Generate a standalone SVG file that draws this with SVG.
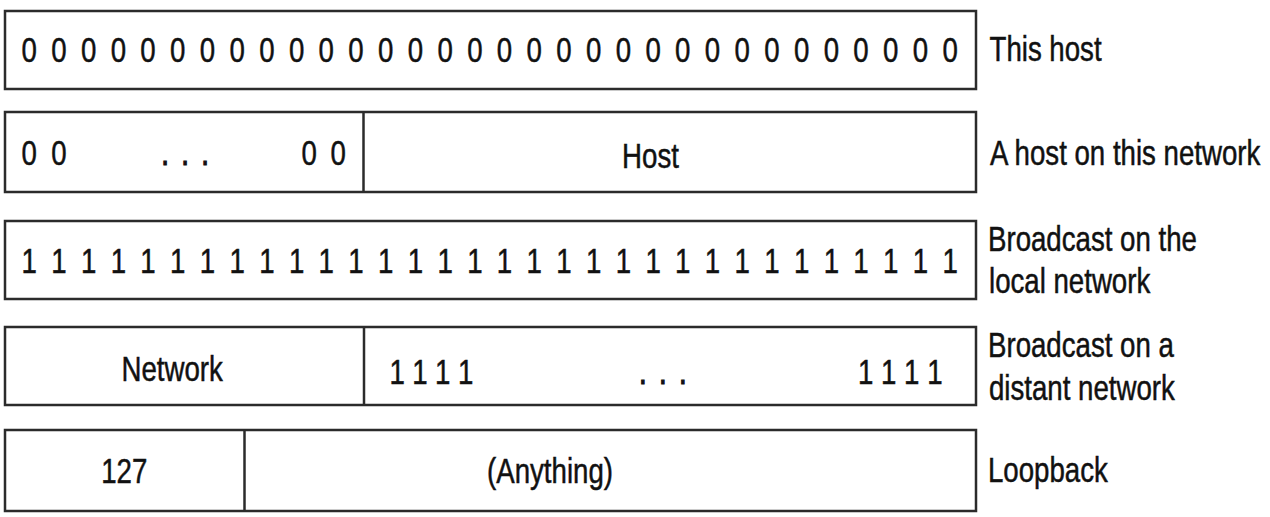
<svg xmlns="http://www.w3.org/2000/svg" width="1270" height="517" viewBox="0 0 1270 517">
<style>
.box{fill:#fff;stroke:#2b2b2b;stroke-width:2.5}
.div{stroke:#2b2b2b;stroke-width:2.5}
.t{font-family:"Liberation Sans",Arial,Helvetica,sans-serif;font-size:35px;fill:#111;stroke:#111;stroke-width:0.5px}
.m{text-anchor:middle}
</style>
<rect width="1270" height="517" fill="#fff"/>
<g id="row-this-host">
<rect class="box" x="5" y="11" width="971" height="78"/>
<text class="t" transform="translate(21.5,62) scale(0.79,1)" style="letter-spacing:4.22px">0 0 0 0 0 0 0 0 0 0 0 0 0 0 0 0 0 0 0 0 0 0 0 0 0 0 0 0 0 0 0 0</text>
<text class="t" transform="translate(989.5,61) scale(0.79,1)">This host</text>
</g>
<g id="row-host-on-network">
<rect class="box" x="5" y="112" width="971" height="80"/>
<line class="div" x1="363.5" y1="112" x2="363.5" y2="192"/>
<text class="t" transform="translate(21.5,165) scale(0.79,1)" style="letter-spacing:4.2px">0 0</text>
<text class="t" transform="translate(161.2,165) scale(0.79,1)" style="letter-spacing:2.93px;stroke-width:1.2px">. . .</text>
<text class="t" transform="translate(301.6,165) scale(0.79,1)" style="letter-spacing:3.75px">0 0</text>
<text class="t m" transform="translate(650.5,168) scale(0.79,1)">Host</text>
<text class="t" transform="translate(990,165) scale(0.79,1)">A host on this network</text>
</g>
<g id="row-broadcast-local">
<rect class="box" x="5" y="221" width="971" height="78"/>
<text class="t" transform="translate(21.5,272.5) scale(0.79,1)" style="letter-spacing:4.22px">1 1 1 1 1 1 1 1 1 1 1 1 1 1 1 1 1 1 1 1 1 1 1 1 1 1 1 1 1 1 1 1</text>
<text class="t" transform="translate(988,251) scale(0.79,1)">Broadcast on the</text>
<text class="t" transform="translate(989,293) scale(0.79,1)">local network</text>
</g>
<g id="row-broadcast-distant">
<rect class="box" x="5" y="327" width="971" height="78"/>
<line class="div" x1="364" y1="327" x2="364" y2="405"/>
<text class="t m" transform="translate(172.2,381) scale(0.79,1)">Network</text>
<text class="t" transform="translate(389.5,384) scale(0.79,1)" style="letter-spacing:12px">1111</text>
<text class="t" transform="translate(639.1,384) scale(0.79,1)" style="letter-spacing:2.93px;stroke-width:1.2px">. . .</text>
<text class="t" transform="translate(857.9,384) scale(0.79,1)" style="letter-spacing:12.4px">1111</text>
<text class="t" transform="translate(988,357) scale(0.79,1)">Broadcast on a</text>
<text class="t" transform="translate(989,400) scale(0.79,1)">distant network</text>
</g>
<g id="row-loopback">
<rect class="box" x="5" y="430" width="971" height="81"/>
<line class="div" x1="244.5" y1="430" x2="244.5" y2="511"/>
<text class="t m" transform="translate(124.2,483) scale(0.79,1)">127</text>
<text class="t m" transform="translate(550,483) scale(0.79,1)">(Anything)</text>
<text class="t" transform="translate(988,482) scale(0.79,1)">Loopback</text>
</g>
<g id="connectors"/>
</svg>
